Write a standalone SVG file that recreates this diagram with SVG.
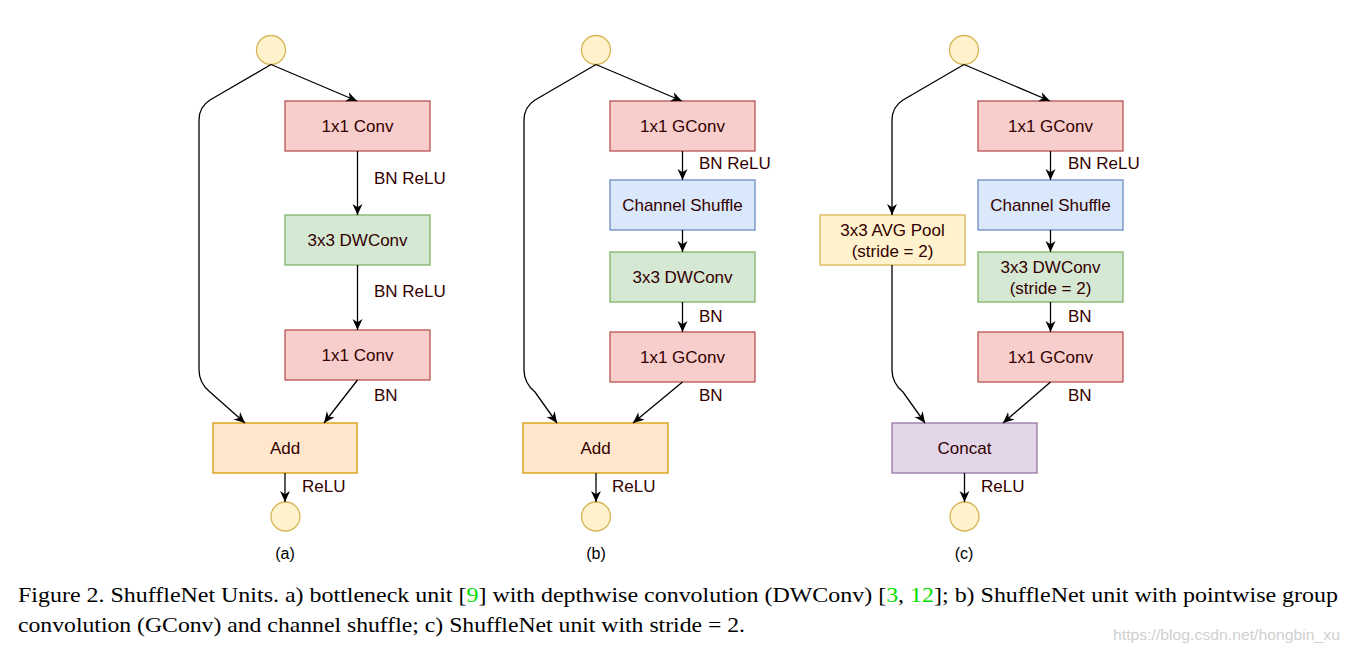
<svg xmlns="http://www.w3.org/2000/svg" width="1349" height="653" viewBox="0 0 1349 653">
<defs>
<marker id="arr" viewBox="0 0 10 10" refX="10" refY="5" markerWidth="11" markerHeight="11" markerUnits="userSpaceOnUse" orient="auto">
<path d="M0,0.5 L10,5 L0,9.5 L3,5 Z" fill="#000"/>
</marker>
</defs>
<style>
.n rect{stroke-width:1.3}
.red{fill:#f8cecc;stroke:#b85450}
.green{fill:#d5e8d4;stroke:#82b366}
.blue{fill:#dae8fc;stroke:#6c8ebf}
.orange{fill:#ffe6cc;stroke:#d79b00}
.yellow{fill:#fff2cc;stroke:#d6b656}
.purple{fill:#e1d5e7;stroke:#9673a6}
.io{fill:#fff2cc;stroke:#d6b656;stroke-width:1.3}
.t{font-family:"Liberation Sans",Arial,sans-serif;font-size:17px;fill:#330000;text-anchor:middle}
.lb{font-family:"Liberation Sans",Arial,sans-serif;font-size:17px;fill:#330000}
.sub{font-family:"Liberation Sans",Arial,sans-serif;font-size:16px;fill:#000;text-anchor:middle}
.e{fill:none;stroke:#000;stroke-width:1.3;marker-end:url(#arr)}
.cap{font-family:"Liberation Serif","Times New Roman",serif;font-size:21px;fill:#000}
.g{fill:#00dd00}
</style>

<!-- column a -->
<g id="a_in"><circle class="io" cx="271" cy="50" r="14.5"/></g>
<g id="a_conv1" class="n"><rect class="red" x="285" y="101" width="145" height="50"/><text class="t" x="357.5" y="132">1x1 Conv</text></g>
<g id="a_dw" class="n"><rect class="green" x="285" y="215" width="145" height="50"/><text class="t" x="357.5" y="246">3x3 DWConv</text></g>
<g id="a_conv2" class="n"><rect class="red" x="285" y="330" width="145" height="50"/><text class="t" x="357.5" y="361">1x1 Conv</text></g>
<g id="a_add" class="n"><rect class="orange" x="213" y="423" width="144" height="50"/><text class="t" x="285" y="454">Add</text></g>
<g id="a_out"><circle class="io" cx="285.5" cy="516.5" r="14.5"/></g>

<!-- column b -->
<g id="b_in"><circle class="io" cx="596" cy="50" r="14.5"/></g>
<g id="b_gconv1" class="n"><rect class="red" x="610" y="101" width="145" height="50"/><text class="t" x="682.5" y="132">1x1 GConv</text></g>
<g id="b_shuffle" class="n"><rect class="blue" x="610" y="180" width="145" height="50"/><text class="t" x="682.5" y="211">Channel Shuffle</text></g>
<g id="b_dw" class="n"><rect class="green" x="610" y="252" width="145" height="50"/><text class="t" x="682.5" y="283">3x3 DWConv</text></g>
<g id="b_gconv2" class="n"><rect class="red" x="610" y="332" width="145" height="50"/><text class="t" x="682.5" y="363">1x1 GConv</text></g>
<g id="b_add" class="n"><rect class="orange" x="523" y="423" width="145" height="50"/><text class="t" x="595.5" y="454">Add</text></g>
<g id="b_out"><circle class="io" cx="596" cy="516.5" r="14.5"/></g>

<!-- column c -->
<g id="c_in"><circle class="io" cx="964" cy="50" r="14.5"/></g>
<g id="c_gconv1" class="n"><rect class="red" x="978" y="101" width="145" height="50"/><text class="t" x="1050.5" y="132">1x1 GConv</text></g>
<g id="c_shuffle" class="n"><rect class="blue" x="978" y="180" width="145" height="50"/><text class="t" x="1050.5" y="211">Channel Shuffle</text></g>
<g id="c_dw" class="n"><rect class="green" x="978" y="252" width="145" height="50"/><text class="t" x="1050.5" y="273">3x3 DWConv</text><text class="t" x="1050.5" y="294">(stride = 2)</text></g>
<g id="c_gconv2" class="n"><rect class="red" x="978" y="332" width="145" height="50"/><text class="t" x="1050.5" y="363">1x1 GConv</text></g>
<g id="c_pool" class="n"><rect class="yellow" x="820" y="215" width="145" height="50"/><text class="t" x="892.5" y="236">3x3 AVG Pool</text><text class="t" x="892.5" y="257">(stride = 2)</text></g>
<g id="c_concat" class="n"><rect class="purple" x="892" y="423" width="145" height="50"/><text class="t" x="964.5" y="454">Concat</text></g>
<g id="c_out"><circle class="io" cx="964.5" cy="516.5" r="14.5"/></g>

<!-- connectors -->
<g id="connectors">
<path class="e" d="M271,64.5 L357,101"/>
<path class="e" d="M271,64.5 L210,100 Q199,107 199,120 L199,370 Q199,383 210,392 L245,423"/>
<path class="e" d="M357.5,151 L357.5,215"/>
<path class="e" d="M357.5,265 L357.5,330"/>
<path class="e" d="M357.5,380 L324,423"/>
<path class="e" d="M285,473 L285,502"/>

<path class="e" d="M596,64.5 L682,101"/>
<path class="e" d="M596,64.5 L535,100 Q524,107 524,120 L524,370 Q524,383 535,392 L557,423"/>
<path class="e" d="M682.5,151 L682.5,180"/>
<path class="e" d="M682.5,230 L682.5,252"/>
<path class="e" d="M682.5,302 L682.5,332"/>
<path class="e" d="M682.5,382 L633,423"/>
<path class="e" d="M596,473 L596,502"/>

<path class="e" d="M964,64.5 L1050,101"/>
<path class="e" d="M964,64.5 L903,100 Q892,107 892,120 L892,215"/>
<path class="e" d="M892,265 L892,370 Q892,383 903,392 L925,423"/>
<path class="e" d="M1050.5,151 L1050.5,180"/>
<path class="e" d="M1050.5,230 L1050.5,252"/>
<path class="e" d="M1050.5,302 L1050.5,332"/>
<path class="e" d="M1050.5,382 L1003,423"/>
<path class="e" d="M964.5,473 L964.5,502"/>

<text class="lb" x="374" y="184">BN ReLU</text>
<text class="lb" x="374" y="297">BN ReLU</text>
<text class="lb" x="374" y="401">BN</text>
<text class="lb" x="302" y="492">ReLU</text>

<text class="lb" x="699" y="169">BN ReLU</text>
<text class="lb" x="699" y="322">BN</text>
<text class="lb" x="699" y="401">BN</text>
<text class="lb" x="612" y="492">ReLU</text>

<text class="lb" x="1068" y="169">BN ReLU</text>
<text class="lb" x="1068" y="322">BN</text>
<text class="lb" x="1068" y="401">BN</text>
<text class="lb" x="981" y="492">ReLU</text>
</g>

<text class="sub" x="285" y="559">(a)</text>
<text class="sub" x="596" y="559">(b)</text>
<text class="sub" x="964" y="559">(c)</text>

<text class="cap" x="18" y="602" textLength="1320" lengthAdjust="spacingAndGlyphs">Figure 2. ShuffleNet Units. a) bottleneck unit [<tspan class="g">9</tspan>] with depthwise convolution (DWConv) [<tspan class="g">3</tspan>, <tspan class="g">12</tspan>]; b) ShuffleNet unit with pointwise group</text>
<text class="cap" x="18" y="632" textLength="727" lengthAdjust="spacingAndGlyphs">convolution (GConv) and channel shuffle; c) ShuffleNet unit with stride = 2.</text>
<text x="1113" y="640" textLength="227" lengthAdjust="spacingAndGlyphs" style="font-family:'Liberation Sans',Arial,sans-serif;font-size:14px;fill:#d0d0d0">https://blog.csdn.net/hongbin_xu</text>
</svg>
